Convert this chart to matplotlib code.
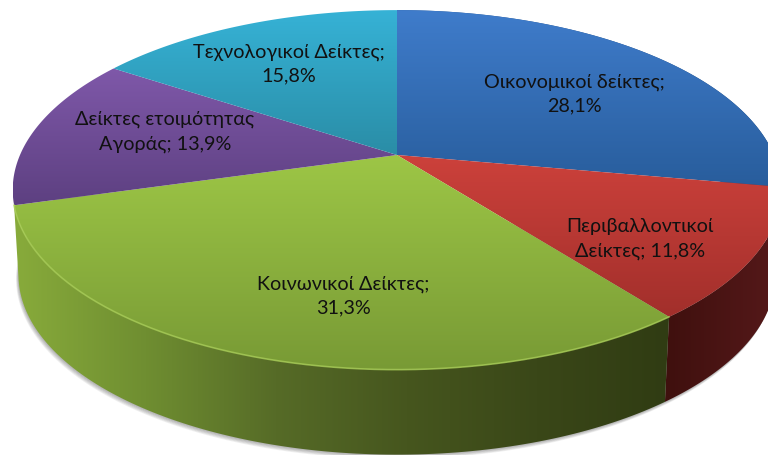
# -*- coding: utf-8 -*-
import numpy as np
import matplotlib
matplotlib.use("Agg")
import matplotlib.pyplot as plt
from matplotlib.colors import LinearSegmentedColormap
from matplotlib.patches import Polygon

labels = [
    "Οικονομικοί δείκτες;\n28,1%",
    "Περιβαλλοντικοί\nΔείκτες; 11,8%",
    "Κοινωνικοί Δείκτες;\n31,3%",
    "Δείκτες ετοιμότητας\nΑγοράς; 13,9%",
    "Τεχνολογικοί Δείκτες;\n15,8%",
]
values = [28.1, 11.8, 31.3, 13.9, 15.8]

top_colors = [
    ("#3f7ccb", "#285d9c"),
    ("#cc413b", "#a22f2b"),
    ("#9dc646", "#789a35"),
    ("#7f58a9", "#5d4081"),
    ("#36b2d6", "#2a8da6"),
]
side_colors = [
    ("#2a5d9c", "#1d4270"),
    ("#3f100e", "#56191a"),
    ("#88ab3b", "#6f8e31", "#566b27", "#46561e", "#3a4718", "#303c13"),
    None,
    None,
]
label_pos = [(574, 94), (640, 239), (343, 296), (165, 132), (289, 64)]

# projection of the tilted disc
cx, cy = 397, 155
R, c, k = 377, 173, 0.194
depth = 85
x_shrink = 0.985


def project(t, lid=True):
    X, Y = np.sin(t), np.cos(t)
    w = 1 + k * Y
    x = R * X / w
    y = c * Y / w
    if lid:
        return cx + x, cy - y
    return cx + x * x_shrink, cy - y + depth


def gradient_fill(ax, xs, ys, colors, horizontal=False, zorder=2):
    cmap = LinearSegmentedColormap.from_list("g", list(colors))
    grad = np.linspace(0, 1, 256)
    grad = grad[None, :] if horizontal else grad[:, None]
    im = ax.imshow(grad, cmap=cmap, aspect="auto", zorder=zorder, interpolation="bilinear",
                   extent=(xs.min(), xs.max(), ys.max(), ys.min()))
    patch = Polygon(np.column_stack([xs, ys]), closed=True, transform=ax.transData,
                    facecolor="none", edgecolor="none")
    ax.add_patch(patch)
    im.set_clip_path(patch)


fig = plt.figure(figsize=(7.68, 4.55), dpi=100)
ax = fig.add_axes([0, 0, 1, 1])
ax.set_axis_off()

shares = np.array(values) / sum(values)
edges = np.concatenate([[0], np.cumsum(shares)]) * 2 * np.pi

# soft shadow under the pie
full = np.linspace(np.pi / 2, 1.6 * np.pi, 300)
bx, by = project(full, lid=False)
for off in range(1, 7):
    ax.add_patch(Polygon(np.column_stack([bx - off * 0.4, by + off * 0.7]), closed=True,
                         facecolor="#444444", edgecolor="none", alpha=0.08, zorder=1))

# sides first, the top covers whatever faces backwards
for i in range(len(values)):
    if side_colors[i] is None:
        continue
    t = np.linspace(edges[i], edges[i + 1], 120)
    # green side runs on to the outline of the base
    t_low = np.linspace(edges[i], edges[i + 1] + (0.07 if i == 2 else 0), 120)
    tx, ty = project(t)
    lx, ly = project(t_low, lid=False)
    xs = np.concatenate([tx, lx[::-1]])
    ys = np.concatenate([ty, ly[::-1]])
    gradient_fill(ax, xs, ys, side_colors[i], horizontal=True, zorder=2)

# top wedges
for i in range(len(values)):
    t = np.linspace(edges[i], edges[i + 1], 120)
    tx, ty = project(t)
    xs = np.concatenate([[cx], tx])
    ys = np.concatenate([[cy], ty])
    gradient_fill(ax, xs, ys, top_colors[i], zorder=3)

# light rim on the front edge of the green wedge
t = np.linspace(edges[2], edges[3], 200)
tx, ty = project(t)
ax.plot(tx, ty, color="#a6cb55", lw=1.2, alpha=0.8, zorder=4)

for text, (x, y) in zip(labels, label_pos):
    ax.text(x, y, text, ha="center", va="center", fontsize=14.2, color="#111111",
            family=["Lato", "Open Sans"], linespacing=1.5, zorder=5)

ax.set_xlim(0, 768)
ax.set_ylim(455, 0)
fig.savefig("out.png", dpi=100, facecolor="white")
